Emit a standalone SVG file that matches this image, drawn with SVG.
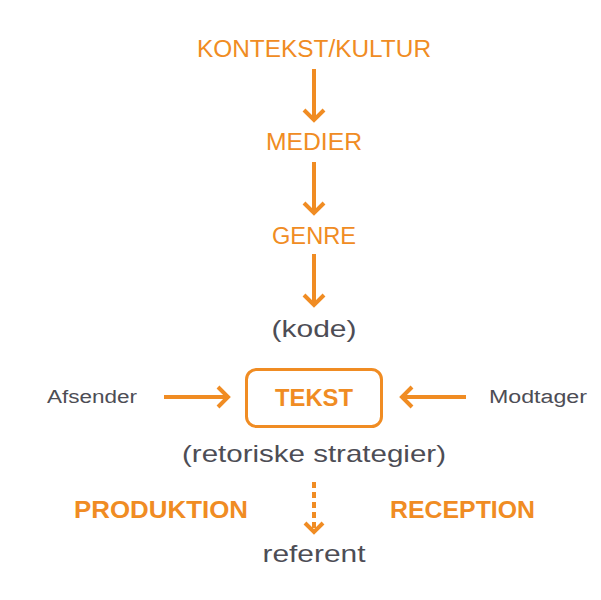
<svg xmlns="http://www.w3.org/2000/svg" width="601" height="600" viewBox="0 0 601 600">
<defs>
<style>
.o{fill:#f08c23;font-family:"Liberation Sans",Arial,sans-serif;font-size:23px;text-anchor:middle}
.ob{fill:#f08c23;font-family:"Liberation Sans",Arial,sans-serif;font-size:24px;font-weight:bold;text-anchor:middle}
.g{fill:#4d4d55;font-family:"Liberation Sans",Arial,sans-serif;font-size:24px;text-anchor:middle}
.gs{fill:#4d4d55;font-family:"Liberation Sans",Arial,sans-serif;font-size:18px;text-anchor:middle}
.ln{stroke:#f08c23;stroke-width:4;fill:none}
.hd{stroke:#f08c23;stroke-width:4;fill:none;stroke-linecap:butt;stroke-linejoin:miter}
</style>
</defs>
<rect width="601" height="600" fill="#ffffff"/>
<g id="kontekst"><text class="o" x="314" y="57" textLength="234" lengthAdjust="spacingAndGlyphs">KONTEKST/KULTUR</text></g>
<g id="medier"><text class="o" x="314" y="150" textLength="96" lengthAdjust="spacingAndGlyphs">MEDIER</text></g>
<g id="genre"><text class="o" x="314" y="244" textLength="84" lengthAdjust="spacingAndGlyphs">GENRE</text></g>
<g id="kode"><text class="g" x="314" y="337" textLength="85" lengthAdjust="spacingAndGlyphs">(kode)</text></g>
<g id="tekst">
<rect x="246.5" y="369.5" width="135" height="57" rx="10" fill="none" stroke="#f08c23" stroke-width="3"/>
<text class="ob" x="314" y="406" textLength="78" lengthAdjust="spacingAndGlyphs">TEKST</text>
</g>
<g id="afsender"><text class="gs" x="92" y="403" textLength="90" lengthAdjust="spacingAndGlyphs">Afsender</text></g>
<g id="modtager"><text class="gs" x="538" y="403" textLength="98" lengthAdjust="spacingAndGlyphs">Modtager</text></g>
<g id="retoriske"><text class="g" x="314" y="462" textLength="264" lengthAdjust="spacingAndGlyphs">(retoriske strategier)</text></g>
<g id="produktion"><text class="ob" x="161" y="518" textLength="174" lengthAdjust="spacingAndGlyphs">PRODUKTION</text></g>
<g id="reception"><text class="ob" x="462.5" y="518" textLength="145" lengthAdjust="spacingAndGlyphs">RECEPTION</text></g>
<g id="referent"><text class="g" x="314" y="562" textLength="103" lengthAdjust="spacingAndGlyphs">referent</text></g>
<g id="connectors">
<line class="ln" x1="314" y1="69" x2="314" y2="120"/>
<polyline class="hd" points="304,110 314,120 324,110"/>
<line class="ln" x1="314" y1="162" x2="314" y2="213"/>
<polyline class="hd" points="304,203 314,213 324,203"/>
<line class="ln" x1="314" y1="254" x2="314" y2="305"/>
<polyline class="hd" points="304,295 314,305 324,295"/>
<line class="ln" x1="164" y1="397" x2="228" y2="397"/>
<polyline class="hd" points="218,387 228,397 218,407"/>
<line class="ln" x1="466" y1="397" x2="402" y2="397"/>
<polyline class="hd" points="412,387 402,397 412,407"/>
<line class="ln" x1="314" y1="482" x2="314" y2="528" stroke-dasharray="6,4"/>
<polyline class="hd" points="305,523 314,532 323,523" stroke-width="3.5"/>
</g>
</svg>
